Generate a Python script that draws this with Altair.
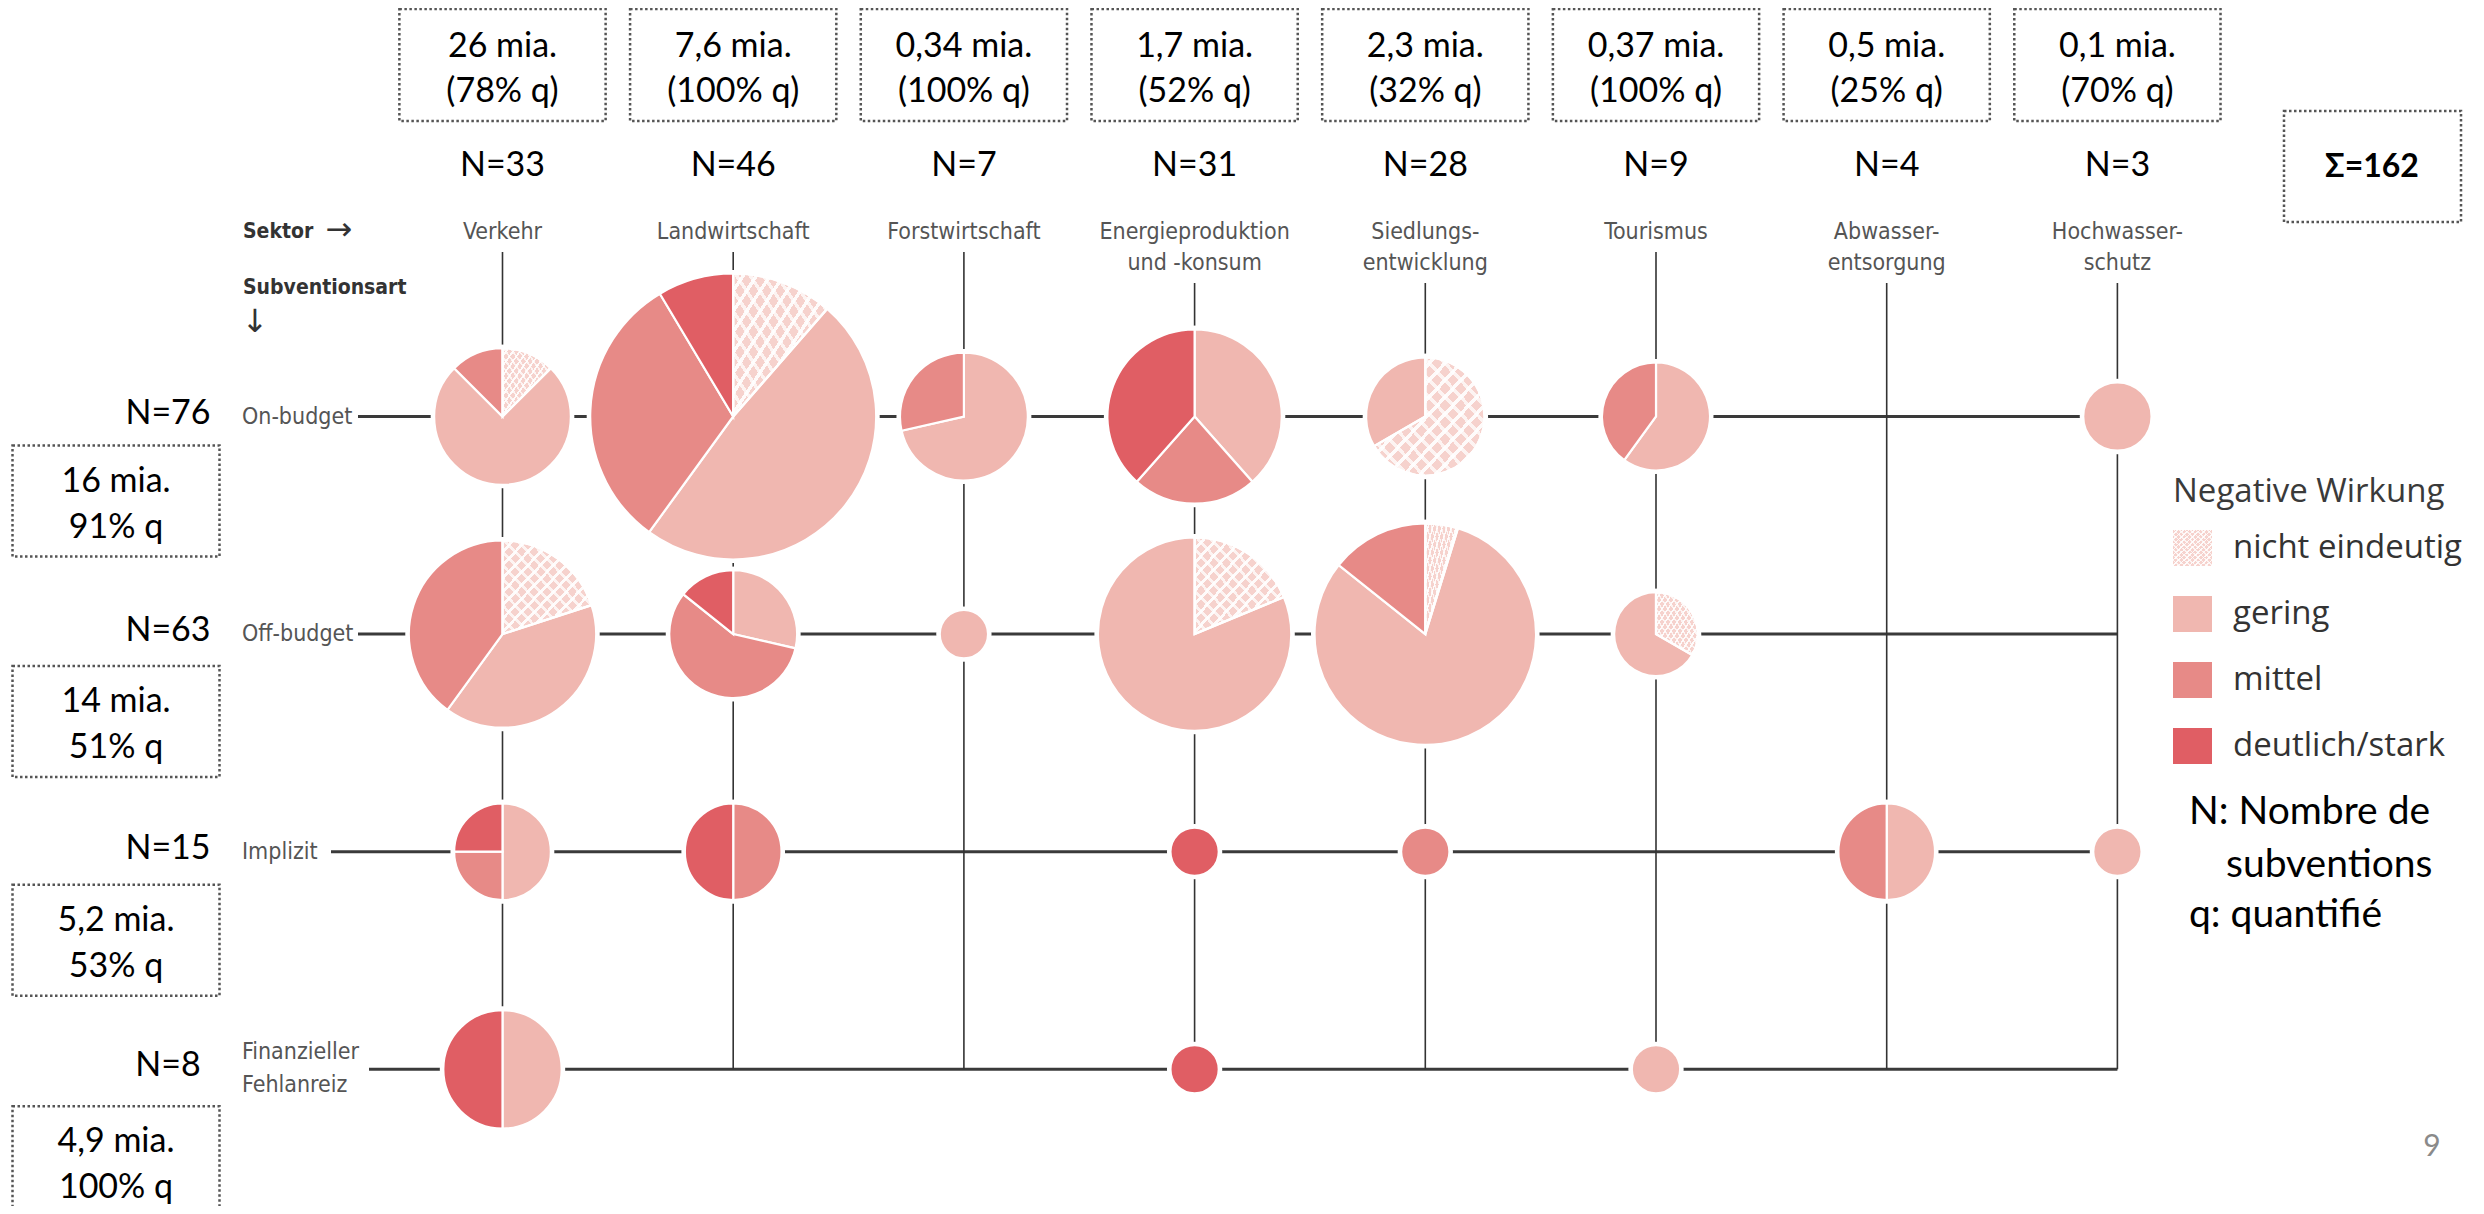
import altair as alt
import pandas as pd

# ---------------- data ----------------
sectors = ["Verkehr", "Landwirtschaft", "Forstwirtschaft", "Energieproduktion",
           "Siedlungs-", "Tourismus", "Abwasser-", "Hochwasser-"]
sector_line2 = ["", "", "", "und -konsum", "entwicklung", "", "entsorgung", "schutz"]
sector_amount = ["26 mia.", "7,6 mia.", "0,34 mia.", "1,7 mia.", "2,3 mia.", "0,37 mia.", "0,5 mia.", "0,1 mia."]
sector_quant = ["(78% q)", "(100% q)", "(100% q)", "(52% q)", "(32% q)", "(100% q)", "(25% q)", "(70% q)"]
sector_n = [33, 46, 7, 31, 28, 9, 4, 3]

types = ["On-budget", "Off-budget", "Implizit", "Finanzieller Fehlanreiz"]
type_lines = [["On-budget"], ["Off-budget"], ["Implizit"], ["Finanzieller", "Fehlanreiz"]]
type_n = [76, 63, 15, 8]
type_amount = ["16 mia.", "14 mia.", "5,2 mia.", "4,9 mia."]
type_quant = ["91% q", "51% q", "53% q", "100% q"]
total_label = "Σ=162"

impact_levels = ["nicht eindeutig", "gering", "mittel", "deutlich/stark"]
impact_colors = ["#F6D2CD", "#F0B7B0", "#E78A87", "#E05E64"]

cell_sector = ["Verkehr", "Landwirtschaft", "Forstwirtschaft", "Energieproduktion", "Siedlungs-", "Tourismus", "Hochwasser-",
               "Verkehr", "Landwirtschaft", "Forstwirtschaft", "Energieproduktion", "Siedlungs-", "Tourismus",
               "Verkehr", "Landwirtschaft", "Energieproduktion", "Siedlungs-", "Abwasser-", "Hochwasser-",
               "Verkehr", "Energieproduktion", "Tourismus"]
cell_type = ["On-budget"] * 7 + ["Off-budget"] * 6 + ["Implizit"] * 6 + ["Finanzieller Fehlanreiz"] * 3
n_unclear = [1, 4, 0, 0, 4, 0, 0,   3, 0, 0, 3, 1, 1,   0, 0, 0, 0, 0, 0,   0, 0, 0]
n_low     = [6, 17, 5, 5, 2, 3, 2,  6, 2, 1, 13, 17, 2, 2, 0, 0, 0, 2, 1,   3, 0, 1]
n_mid     = [1, 11, 2, 3, 0, 2, 0,  6, 4, 0, 0, 3, 0,   1, 2, 0, 1, 2, 0,   0, 0, 0]
n_high    = [0, 3, 0, 5, 0, 0, 0,   0, 1, 0, 0, 0, 0,   1, 2, 1, 0, 0, 0,   3, 1, 0]

legend_title = "Negative Wirkung"
notes = ["N: Nombre de", "subventions", "q: quantifié"]
page_no = "9"

# ---------------- layout helpers ----------------
X0, DX = 502.5, 230.7   # screen x of first sector column, column step
Y0, DY = 416.5, 217.6   # screen y of first row, row step
W, H = 2468, 1198


def ux(px):
    return (px - X0) / DX


def uy(py):
    return (py - Y0) / DY


xs = alt.Scale(domain=[ux(8), ux(8 + W)], nice=False, zero=False)
ys = alt.Scale(domain=[uy(8), uy(8 + H)], nice=False, zero=False, reverse=True)
rs = alt.Scale(type="sqrt", domain=[0, 35], range=[0, 143], zero=True, nice=False)

SLIDE_FONT = "Lato"
CHART_FONT = "Liberation Sans Narrow, DejaVu Sans Condensed, sans-serif"
LEG_FONT = "Open Sans"


def ex(f="x"):
    return alt.X(f + ":Q", scale=xs, axis=None)


def ey(f="y"):
    return alt.Y(f + ":Q", scale=ys, axis=None)


def text_layer(recs, size, font, color="#000000", weight="normal", align="center"):
    df = pd.DataFrame(recs, columns=["x", "y", "t"])
    return alt.Chart(df).mark_text(fontSize=size, font=font, color=color, fontWeight=weight,
                                   align=align, baseline="middle").encode(
        x=ex(), y=ey(), text="t:N")


def box_layer(recs, color="#555555"):
    df = pd.DataFrame(recs, columns=["x", "x2", "y", "y2"])
    return alt.Chart(df).mark_rect(filled=False, stroke=color, strokeWidth=2.5,
                                   strokeDash=[2.5, 2.5]).encode(
        x=ex(), x2="x2:Q", y=ey(), y2="y2:Q")


def stripes(x1, y1, x2, y2, bg, line, n=14, frac=0.3):
    stops = []
    for k in range(n):
        a = k / n
        b = (k + 1 - frac) / n
        c = (k + 1) / n
        stops += [{"offset": a, "color": bg}, {"offset": b, "color": bg},
                  {"offset": b, "color": line}, {"offset": c, "color": line}]
    return {"gradient": "linear", "x1": x1, "y1": y1, "x2": x2, "y2": y2, "stops": stops}


grad1 = stripes(0, 0, 1, 1, "rgba(255,255,255,0)", "rgba(255,255,255,0.9)")
grad2 = stripes(1, 0, 0, 1, "rgba(255,255,255,0)", "rgba(255,255,255,0.75)")

# ---------------- grid lines ----------------
h_start_px = [358, 358, 331, 369]
hl = pd.DataFrame({"y": list(range(len(types))),
                   "x": [ux(p) for p in h_start_px],
                   "x2": [len(sectors) - 1] * len(types)})
h_rules = alt.Chart(hl).mark_rule(color="#3a3a3a", strokeWidth=3).encode(x=ex(), x2="x2:Q", y=ey())

vl = pd.DataFrame({"x": list(range(len(sectors))),
                   "y": [uy(283) if l2 else uy(252) for l2 in sector_line2],
                   "y2": [len(types) - 1] * len(sectors)})
v_rules = alt.Chart(vl).mark_rule(color="#333333", strokeWidth=1.6).encode(x=ex(), y=ey(), y2="y2:Q")

# ---------------- pies ----------------
seg_rows = []
for i in range(len(cell_sector)):
    counts = [n_unclear[i], n_low[i], n_mid[i], n_high[i]]
    for k, c in enumerate(counts):
        if c > 0:
            seg_rows.append({"cell": i, "col": sectors.index(cell_sector[i]),
                             "row": types.index(cell_type[i]), "cat": impact_levels[k],
                             "order": k, "n": c})
seg = pd.DataFrame(seg_rows)

pie_base = alt.Chart(seg).transform_joinaggregate(
    total="sum(n)", groupby=["cell"]
).transform_stack(
    stack="n", groupby=["cell"], as_=["t0", "t1"],
    sort=[alt.SortField("order", order="ascending")], offset="normalize"
)
enc = dict(x=ex("col"), y=ey("row"),
           theta=alt.Theta("t0:Q", scale=alt.Scale(domain=[0, 1]), stack=False),
           theta2=alt.Theta2("t1:Q"),
           radius=alt.Radius("total:Q", scale=rs))

halo = pie_base.mark_arc(fill="white", stroke="white", strokeWidth=7).encode(**enc)
pies = pie_base.mark_arc(stroke="white", strokeWidth=2.2).encode(
    fill=alt.Fill("cat:N", scale=alt.Scale(domain=impact_levels, range=impact_colors), legend=None),
    **enc)
hatched = pie_base.transform_filter("datum.cat == 'nicht eindeutig'")
hatch1 = hatched.mark_arc(fill=grad1, strokeWidth=0).encode(**enc)
hatch2 = hatched.mark_arc(fill=grad2, stroke="white", strokeWidth=2.2).encode(**enc)

# ---------------- header texts ----------------
top_boxes = box_layer([(i - 0.447, i + 0.447, uy(9), uy(121)) for i in range(len(sectors))])
top_txt = text_layer([(i, uy(47), a) for i, a in enumerate(sector_amount)] +
                     [(i, uy(92), q) for i, q in enumerate(sector_quant)], 34, SLIDE_FONT)
n_txt = text_layer([(i, uy(166), f"N={n}") for i, n in enumerate(sector_n)], 34, SLIDE_FONT)
sec_txt = text_layer([(i, uy(232), s) for i, s in enumerate(sectors)] +
                     [(i, uy(263), s) for i, s in enumerate(sector_line2) if s],
                     23, CHART_FONT, color="#555555")

sigma_box = box_layer([(ux(2284), ux(2461), uy(111), uy(222))])
sigma_txt = text_layer([(ux(2372), uy(167), total_label)], 32, SLIDE_FONT, weight="bold")

axis_lbl = text_layer([(ux(243), uy(232), "Sektor"), (ux(243), uy(288), "Subventionsart")],
                      21, CHART_FONT, color="#333333", weight="bold", align="left")
arrows = text_layer([(ux(339), uy(230), "→")], 32, "DejaVu Sans", color="#333333") + \
    text_layer([(ux(255), uy(322), "↓")], 32, "DejaVu Sans", color="#333333")

# ---------------- row texts ----------------
box_off = [29, 32, 33, 37]
row_n_txt = text_layer([(ux(168), j - 3 / DY, f"N={n}") for j, n in enumerate(type_n)], 34, SLIDE_FONT)
type_recs = []
for j, lines in enumerate(type_lines):
    if len(lines) == 1:
        type_recs.append((ux(242), j, lines[0]))
    else:
        type_recs.append((ux(242), j - 17 / DY, lines[0]))
        type_recs.append((ux(242), j + 16 / DY, lines[1]))
type_txt = text_layer(type_recs, 23, CHART_FONT, color="#555555", align="left")
row_boxes = box_layer([(ux(12.5), ux(219.5), j + o / DY, j + (o + 111) / DY) for j, o in enumerate(box_off)])
row_box_txt = text_layer([(ux(116), j + (box_off[j] + 36) / DY, a) for j, a in enumerate(type_amount)] +
                         [(ux(116), j + (box_off[j] + 82) / DY, q) for j, q in enumerate(type_quant)],
                         34, SLIDE_FONT)

# ---------------- legend ----------------
leg_y = [548, 614, 680, 746]
leg_df = pd.DataFrame({"cat": impact_levels,
                       "x": [ux(2173)] * 4, "x2": [ux(2212)] * 4,
                       "y": [uy(v - 18) for v in leg_y], "y2": [uy(v + 18) for v in leg_y]})
leg_sw = alt.Chart(leg_df).mark_rect().encode(
    x=ex(), x2="x2:Q", y=ey(), y2="y2:Q",
    fill=alt.Fill("cat:N", scale=alt.Scale(domain=impact_levels, range=impact_colors), legend=None))
leg_h = alt.Chart(leg_df.iloc[[0]]).mark_rect(fill=grad1).encode(x=ex(), x2="x2:Q", y=ey(), y2="y2:Q") + \
    alt.Chart(leg_df.iloc[[0]]).mark_rect(fill=grad2).encode(x=ex(), x2="x2:Q", y=ey(), y2="y2:Q")
leg_title = text_layer([(ux(2173), uy(492), legend_title)], 33, LEG_FONT, color="#3a3a3a", align="left")
leg_lbl = text_layer([(ux(2233), uy(v), c) for v, c in zip(leg_y, impact_levels)], 33, LEG_FONT,
                     color="#333333", align="left")

notes_txt = text_layer([(ux(2189), uy(812), notes[0]), (ux(2226), uy(865), notes[1]),
                        (ux(2189), uy(915), notes[2])], 39, SLIDE_FONT, align="left")
page_txt = text_layer([(ux(2432), uy(1147), page_no)], 30, SLIDE_FONT, color="#8a8a8a")

chart = alt.layer(
    h_rules, v_rules, halo, pies, hatch1, hatch2,
    top_boxes, top_txt, n_txt, sec_txt, sigma_box, sigma_txt, axis_lbl, arrows,
    row_n_txt, type_txt, row_boxes, row_box_txt,
    leg_sw, leg_h, leg_title, leg_lbl, notes_txt, page_txt
).properties(
    width=W, height=H, padding=0, background="white",
    autosize=alt.AutoSizeParams(type="none")
).configure_view(stroke=None)

chart.save("out.html", embed_options={"renderer": "svg", "actions": False})
